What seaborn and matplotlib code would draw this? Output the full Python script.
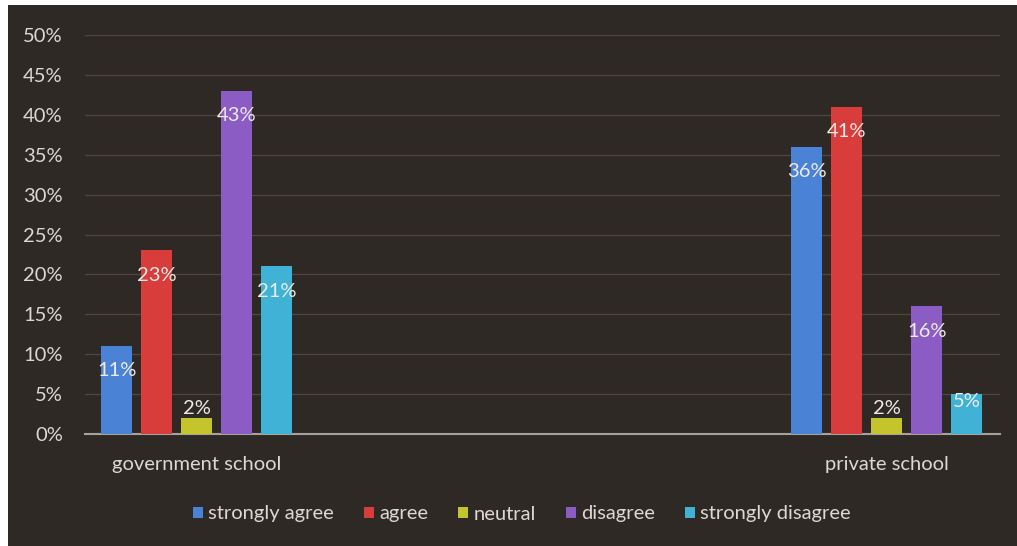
import numpy as np
import pandas as pd
import seaborn as sns
import matplotlib.pyplot as plt
from matplotlib.patches import Rectangle, Patch

# data
schools = ["government school", "private school"]
responses = ["strongly agree", "agree", "neutral", "disagree", "strongly disagree"]
government = [0.11, 0.23, 0.02, 0.43, 0.21]
private = [0.36, 0.41, 0.02, 0.16, 0.05]
colors = ["#4a82d6", "#d93d3b", "#c4c42c", "#8b5cc4", "#3fb2d6"]

bg = "#2f2926"
txt = "#dcd8d2"
fs = 14.5

rows = []
for school, vals in zip(schools, [government, private]):
    for r, v in zip(responses, vals):
        rows.append({"school": school, "response": r, "value": v})
df = pd.DataFrame(rows)

sns.set_style("dark")
plt.rcParams["font.family"] = ["Lato", "DejaVu Sans"]

fig = plt.figure(figsize=(10.17, 5.46), dpi=100)
fig.patch.set_facecolor("white")
fig.add_artist(Rectangle((8 / 1017, 0), 1, 1 - 5 / 546, transform=fig.transFigure,
                         facecolor=bg, edgecolor="none", zorder=-10))
ax = fig.add_axes([85 / 1017, 1 - 434 / 546, (1000 - 85) / 1017, (434 - 35) / 546])
ax.set_facecolor(bg)

sns.barplot(data=df, x="school", y="value", hue="response", palette=colors,
            width=0.29, gap=0.22, saturation=1, legend=False, ax=ax, zorder=3,
            edgecolor="none", linewidth=0)

# value labels
for p in ax.patches:
    v = p.get_height()
    if np.isnan(v) or v <= 0:
        continue
    cx = p.get_x() + p.get_width() / 2
    if v < 0.03:
        y = v + 0.012
    elif v < 0.08:
        y = v - 0.009
    else:
        y = v - 0.031
    ax.text(cx, y, f"{v * 100:.0f}%", ha="center", va="center",
            color="#eeeae6", fontsize=fs, zorder=5)

ax.set_xlim(-0.162, 1.164)
ax.set_ylim(0, 0.5)
ax.set_yticks(np.arange(0, 0.51, 0.05))
ax.set_yticklabels([f"{t}%" for t in range(0, 51, 5)])
ax.yaxis.grid(True, color="#4d4641", linewidth=0.9, zorder=0)
ax.xaxis.grid(False)
ax.set_xlabel("")
ax.set_ylabel("")
for s in ["top", "right", "left"]:
    ax.spines[s].set_visible(False)
ax.spines["bottom"].set_visible(True)
ax.spines["bottom"].set_color("#a8a29c")
ax.spines["bottom"].set_linewidth(1.5)
ax.tick_params(axis="y", colors=txt, labelsize=fs, length=0, pad=16)
ax.tick_params(axis="x", colors=txt, labelsize=fs, length=0, pad=16)

handles = [Patch(facecolor=c, edgecolor="none") for c in colors]
fig.legend(handles, responses, loc="center", bbox_to_anchor=(522 / 1017, 1 - 514 / 546),
           ncol=5, frameon=False, fontsize=fs, labelcolor=txt, handlelength=0.5,
           handleheight=0.5, handletextpad=0.25, columnspacing=1.5)

fig.savefig("out.png", dpi=100, facecolor=fig.get_facecolor())
